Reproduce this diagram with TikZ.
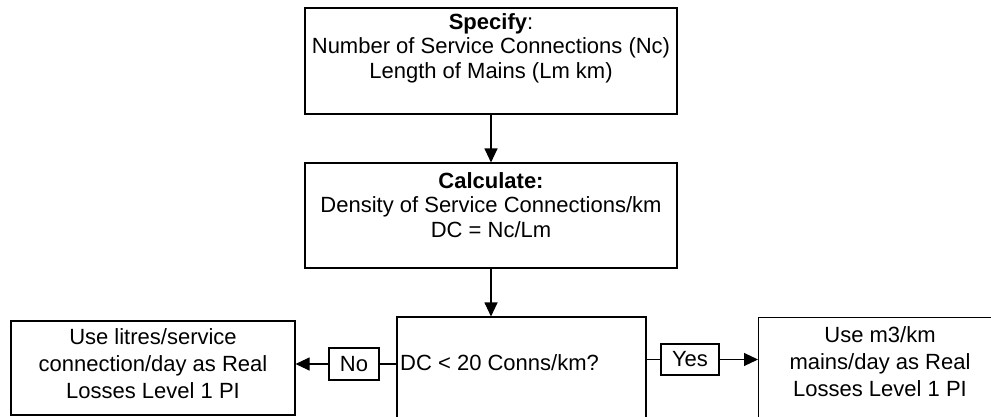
\documentclass[tikz,border=0pt]{standalone}
\usepackage{fontspec}
\setmainfont{Liberation Sans}
\usetikzlibrary{arrows.meta}
\begin{document}
\begin{tikzpicture}[x=1pt,y=-1pt,
  box/.style={draw, line width=1.1pt, inner sep=0pt},
  txt/.style={inner sep=0pt, align=center, font=\fontsize{22}{24.5}\selectfont},
  txtb/.style={inner sep=0pt, align=center, font=\fontsize{22}{27}\selectfont},
  lbl/.style={draw, line width=1.1pt, inner sep=2pt,
    font=\fontsize{22}{25}\selectfont},
  conn/.style={line width=1.1pt},
  arr/.style={line width=1.1pt, -{Triangle[length=14pt,width=13pt]}}]
\useasboundingbox (0,0) rectangle (991,416);
\node[box, minimum width=372pt, minimum height=106pt] (spec) at (491,61) {};
\node[txt] (spect) at (491,48)
  {\textbf{Specify}:\\Number of Service Connections (Nc)\\Length of Mains (Lm km)};
\node[box, minimum width=372pt, minimum height=105pt] (calc) at (491,215.5) {};
\node[txt] (calct) at (491,205)
  {\textbf{Calculate:}\\Density of Service Connections/km\\DC = Nc/Lm};
\node[box, minimum width=249pt, minimum height=113pt] (dc) at (521.5,373.5) {};
\node[txt, anchor=west] (dct) at (400,363) {DC < 20 Conns/km?};
\node[box, minimum width=284pt, minimum height=94pt] (left) at (153,368) {};
\node[txtb] (leftt) at (153,364)
  {Use litres/service\\connection/day as Real\\Losses Level 1 PI};
\node[box, minimum width=252pt, minimum height=113pt, anchor=north west] (right) at (758,317) {};
\node[txtb] (rightt) at (880,362)
  {Use m3/km\\mains/day as Real\\Losses Level 1 PI};
\node[lbl, minimum width=50pt, minimum height=32pt] (no) at (354,364) {No};
\node[lbl, minimum width=58pt, minimum height=31pt] (yes) at (690,359.5) {Yes};
\draw[arr] (spec.south) -- (calc.north);
\draw[arr] (calc.south) -- (calc.south |- dc.north);
\draw[conn] (dc.west |- no.east) -- (no.east);
\draw[arr] (no.west) -- (left.east |- no.west);
\draw[conn] (dc.east |- yes.west) -- (yes.west);
\draw[arr] (yes.east) -- (right.west |- yes.east);
\end{tikzpicture}
\end{document}
